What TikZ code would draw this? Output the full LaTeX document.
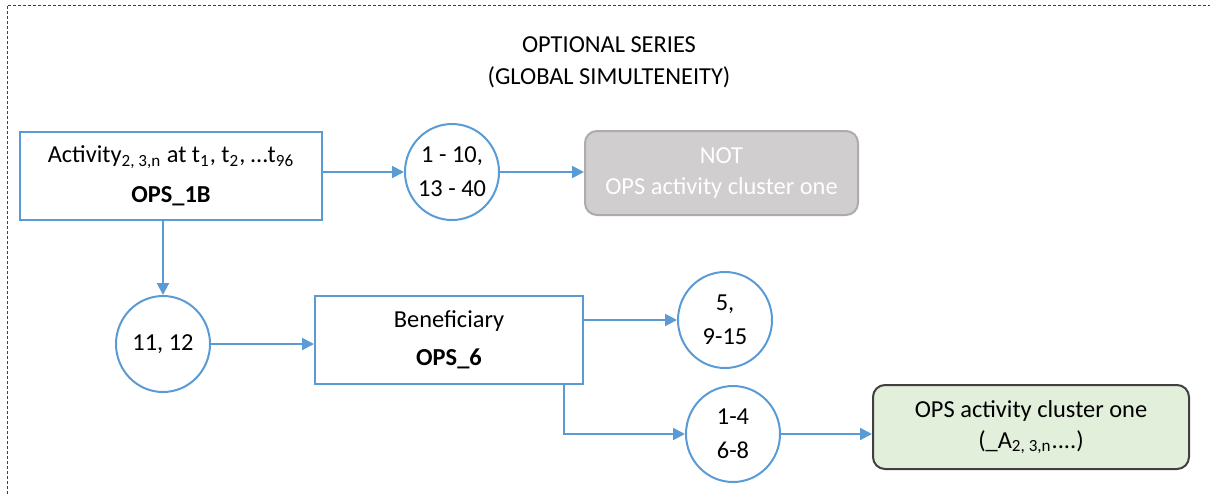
\documentclass[tikz,border=0pt]{standalone}
\usepackage{fontspec}
\setmainfont{Carlito}
\usetikzlibrary{arrows.meta,shapes.geometric}

\definecolor{opsblue}{HTML}{5B9BD5}
\definecolor{notfill}{HTML}{D0CECE}
\definecolor{notline}{HTML}{AFABAB}
\definecolor{okfill}{HTML}{E2EFDA}
\definecolor{okline}{HTML}{404040}

\begin{document}
\begin{tikzpicture}[x=0.5pt,y=-0.5pt,
 font=\fontsize{12.2}{14.5}\selectfont,
 box/.style={draw=opsblue,line width=1pt,minimum height=44pt,align=center,inner sep=0pt},
 ring/.style={ellipse,draw=opsblue,line width=1pt,minimum width=47pt,minimum height=48pt,align=center,inner sep=-2pt},
 notbox/.style={draw=notline,fill=notfill,text=white,line width=1pt,rounded corners=6pt,minimum width=136.5pt,minimum height=42pt,align=center},
 okbox/.style={draw=okline,fill=okfill,line width=1pt,rounded corners=6pt,minimum width=158pt,minimum height=42pt,align=center},
 link/.style={draw=opsblue,line width=1pt,-{Triangle[length=6pt,width=6pt]}},
 frame/.style={draw=black!75,line width=0.5pt,dash pattern=on 1.5pt off 1pt}]

\useasboundingbox (0,0) rectangle (1210,494);
\draw[frame] (7,494) -- (7,5) -- (1210,5);

\node[align=center] (title) at (609,62) {OPTIONAL SERIES\\[1.5pt](GLOBAL SIMULTENEITY)};

\node[box,minimum width=151pt] (ops1b) at (171,176)
 {Activity\textsubscript{2, 3,n} at t\textsubscript{1}, t\textsubscript{2}, \ldots t\textsubscript{96}\\[5.5pt]\textbf{OPS\_1B}};
\node[ring] (c1) at (452,172) {1 - 10,\\[2.5pt]13 - 40};
\node[notbox] (notops) at (721.5,173) {NOT\\[1pt]OPS activity cluster one};

\node[ring] (c2) at (163,344) {11, 12};
\node[box,minimum width=134pt] (ops6) at (449,340) {Beneficiary\\[4.5pt]\textbf{OPS\_6}};
\node[ring] (c3) at (725,320) {5,\\[2.5pt]9-15};
\node[ring] (c4) at (733,434) {1-4\\[2.5pt]6-8};
\node[okbox] (cluster) at (1031,427) {OPS activity cluster one\\[1pt](\_A\textsubscript{2, 3,n}....)};

\draw[link] (ops1b.east |- c1) -- (c1);
\draw[link] (c1.east) -- (c1.east -| notops.west);
\draw[link] (ops1b.south -| c2) -- (c2);
\draw[link] (c2) -- (c2 -| ops6.west);
\draw[link] (ops6.east |- c3) -- (c3);
\draw[link] ([xshift=-10pt]ops6.south east) |- (c4);
\draw[link] (c4.east) -- (c4.east -| cluster.west);
\end{tikzpicture}
\end{document}
